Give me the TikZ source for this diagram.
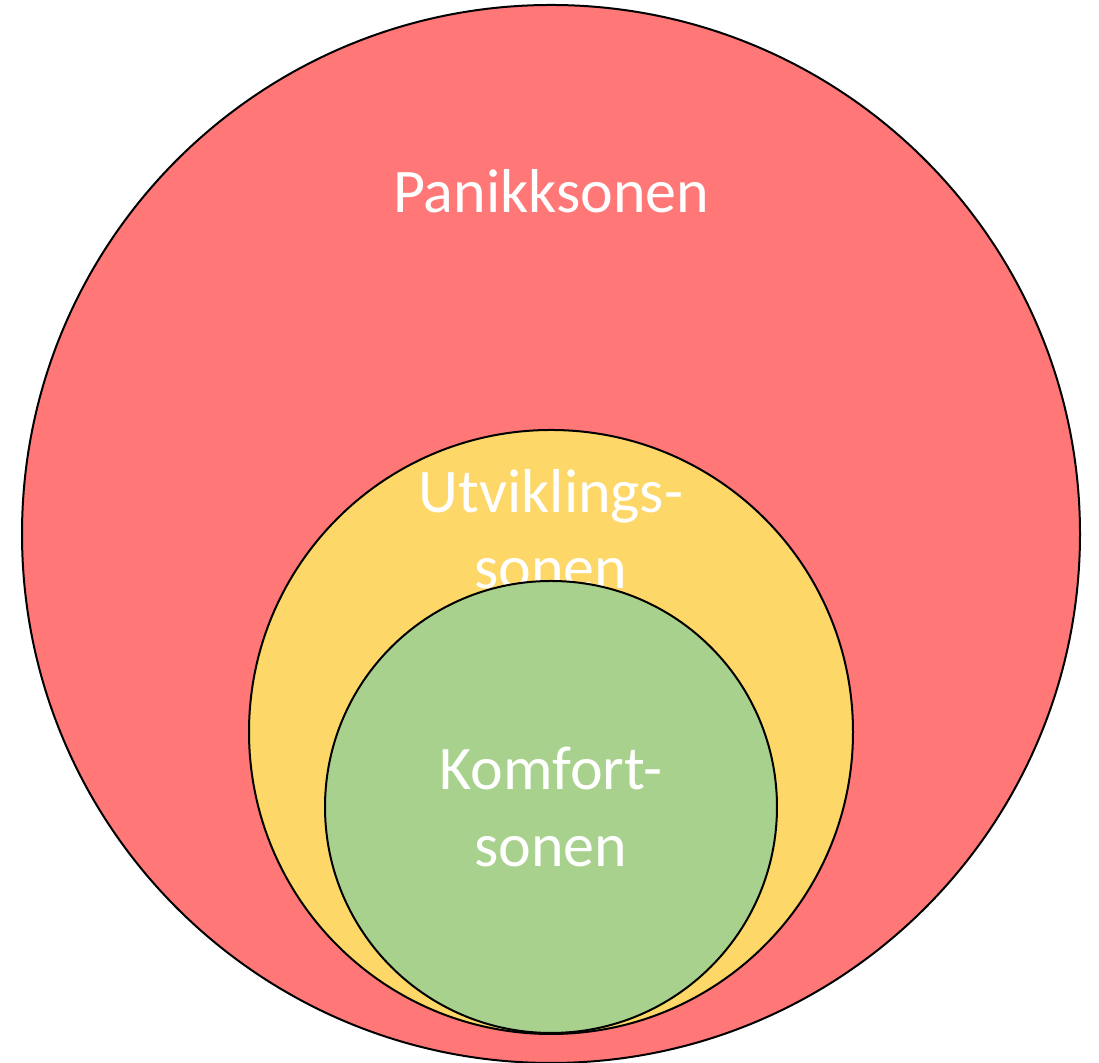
\documentclass[tikz,border=0pt]{standalone}
\usepackage{fontspec}
\setmainfont{Carlito}
\definecolor{panikkred}{HTML}{FF7777}
\definecolor{utvyellow}{HTML}{FDD767}
\definecolor{komfgreen}{HTML}{A9D18E}
\tikzset{
  zone/.style={draw=black,line width=1pt},
  zonelabel/.style={text=white,anchor=base,inner sep=0pt,font=\fontsize{31}{38}\selectfont}
}

\begin{document}
\begin{tikzpicture}[x=0.5pt,y=0.5pt]
\useasboundingbox (0,0) rectangle (1099,1063);
\path
  (551,529) coordinate (P) 
  (551,331) coordinate (U) 
  (551,256) coordinate (K);

% outer zone
\filldraw[zone,fill=panikkred] (P) circle (529);
\node[zonelabel] (panikk) at (551,850) {Panikksonen};

% middle zone
\filldraw[zone,fill=utvyellow] (U) circle (302);
\node[zonelabel] (utv1) at (551,550) {Utviklings-};
\node[zonelabel] (utv2) at (551,474) {sonen};

% inner zone
\filldraw[zone,fill=komfgreen] (K) circle (226);
\node[zonelabel] (komf1) at (551,273) {Komfort-};
\node[zonelabel] (komf2) at (551,196) {sonen};

\end{tikzpicture}
\end{document}
